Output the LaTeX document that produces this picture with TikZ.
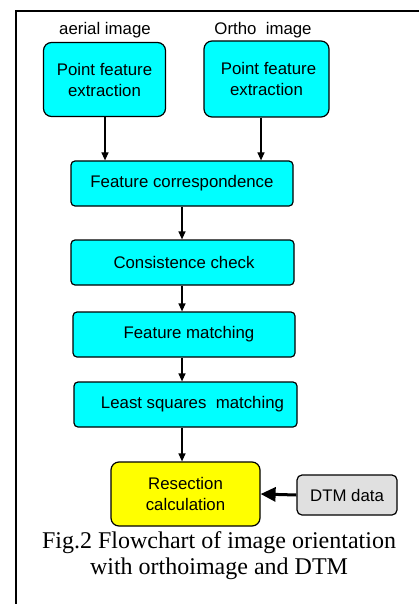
\documentclass[tikz,border=0pt]{standalone}
\usepackage{fontspec}
\setmainfont{Liberation Serif}
\setsansfont{Liberation Sans}
\usetikzlibrary{arrows.meta}
\definecolor{boxcyan}{HTML}{00FFFF}
\definecolor{boxyellow}{HTML}{FFFF00}
\definecolor{boxgray}{HTML}{E0E0E0}
\tikzset{
  flowbox/.style={draw=black, line width=1.2pt, fill=boxcyan, rounded corners=4pt,
    inner sep=0pt, align=center, font=\sffamily\fontsize{16.8}{21}\selectfont},
  arr/.style={line width=1.2pt, -{Triangle[length=8pt,width=7pt]}},
  bigarr/.style={line width=3pt, -{Triangle[length=15pt,width=14pt]}},
  lbl/.style={font=\sffamily\fontsize{16.8}{21}\selectfont, inner sep=0pt}
}
\begin{document}
\begin{tikzpicture}[x=1pt,y=-1pt]
\useasboundingbox (0,0) rectangle (419,604);
% frame
\draw[line width=1.3pt] (16,604) -- (16,11) -- (419,11);
% labels
\node[lbl] (la) at (105,30) {aerial image};
\node[lbl] (lo) at (263,30) {Ortho\ \ image};
% boxes
\node[flowbox, rounded corners=8pt, minimum width=122pt, minimum height=74pt] (lbox) at (104.5,79.5) {Point feature\\extraction};
\node[flowbox, rounded corners=8pt, minimum width=125pt, minimum height=76pt] (rbox) at (266.5,79) {\hspace*{4pt}Point feature\\extraction};
\node[flowbox, minimum width=222pt, minimum height=45pt] (fc) at (182,183.5) {Feature correspondence};
\node[flowbox, minimum width=223pt, minimum height=45pt] (cc) at (182.5,262.5) {\hspace*{3pt}Consistence check};
\node[flowbox, minimum width=222pt, minimum height=45pt] (fm) at (184,334.5) {\hspace*{10pt}Feature matching};
\node[flowbox, minimum width=223pt, minimum height=45pt] (ls) at (185.5,404.5) {\hspace*{14pt}Least squares\ \ matching};
\node[flowbox, fill=boxyellow, rounded corners=8pt, minimum width=149pt, minimum height=64pt] (rc) at (185.5,494) {Resection\\calculation};
\node[flowbox, fill=boxgray, rounded corners=5pt, minimum width=100pt, minimum height=40pt] (dtm) at (347,495) {DTM data};
% caption
\node[font=\fontsize{24}{26}\selectfont, align=center, inner sep=0pt] (cap) at (219,556) {Fig.2 Flowchart of image orientation\\with orthoimage and DTM};
% arrows
\coordinate (ax) at (182,0);
\coordinate (lx) at (105,0);
\coordinate (rx) at (261,0);
\draw[arr] (lbox.south -| lx) -- (fc.north -| lx);
\draw[arr] (rbox.south -| rx) -- (fc.north -| rx);
\draw[arr] (fc.south -| ax) -- (cc.north -| ax);
\draw[arr] (cc.south -| ax) -- (fm.north -| ax);
\draw[arr] (fm.south -| ax) -- (ls.north -| ax);
\draw[arr] (ls.south -| ax) -- (rc.north -| ax);
\draw[bigarr] (dtm.west) -- (rc.east);
\end{tikzpicture}
\end{document}
